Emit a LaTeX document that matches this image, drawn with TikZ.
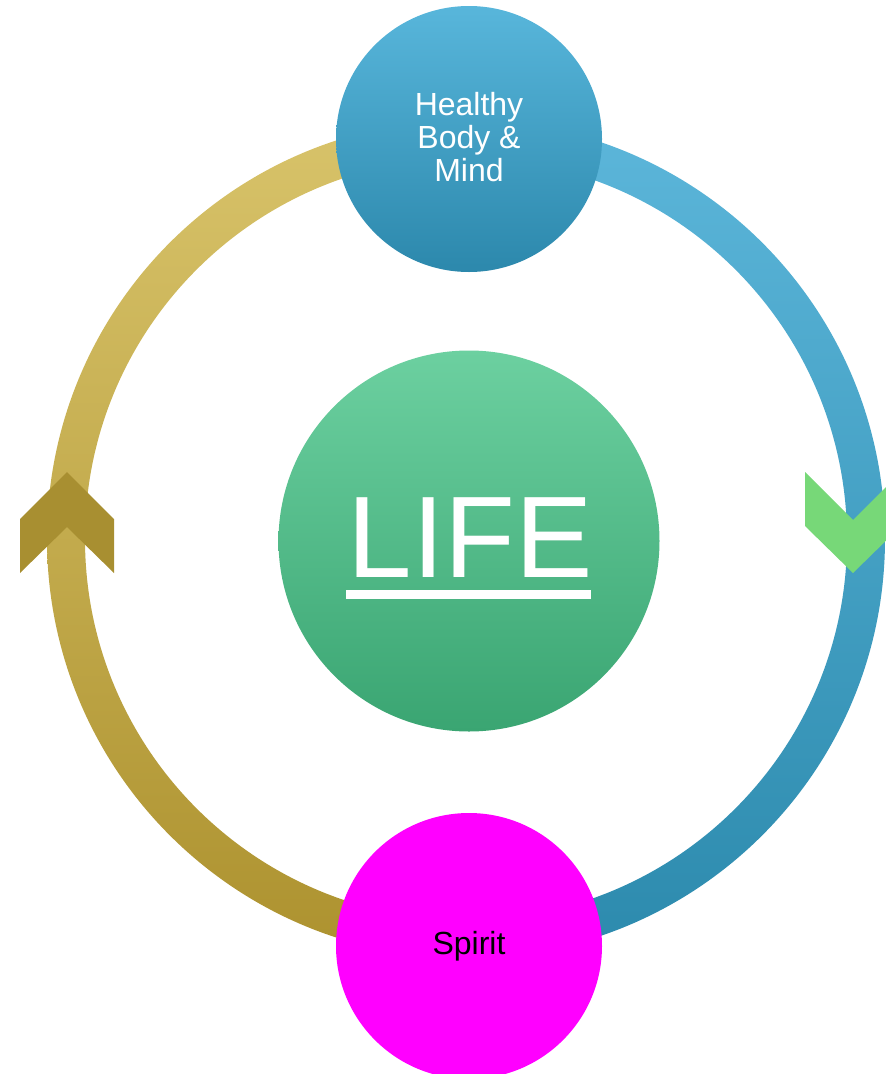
\documentclass[tikz,border=0pt]{standalone}
\usepackage{fontspec}
\setmainfont{Liberation Sans}
\definecolor{goldtop}{HTML}{D8C36A}
\definecolor{goldmid}{HTML}{CAAE3E}
\definecolor{goldbot}{HTML}{AD922F}
\definecolor{bluetop}{HTML}{5CB6DA}
\definecolor{bluemid}{HTML}{3AA3CC}
\definecolor{bluebot}{HTML}{2C8AAD}
\definecolor{chevgold}{HTML}{A88F31}
\definecolor{chevgreen}{HTML}{77D878}
\definecolor{hbtop}{HTML}{58B6DB}
\definecolor{hbmid}{HTML}{2C9CC7}
\definecolor{hbbot}{HTML}{2C88AC}
\definecolor{lifetop}{HTML}{6CD0A0}
\definecolor{lifemid}{HTML}{3CC17F}
\definecolor{lifebot}{HTML}{3AA572}
\definecolor{spiritfill}{HTML}{FF00FF}
\begin{document}
\begin{tikzpicture}[x=1pt,y=-1pt,
  bubble/.style={circle, inner sep=0pt, minimum size=266pt, align=center,
    font=\fontsize{32}{33}\selectfont},
  chevron/.style={draw=none}]
\clip (0,0) rectangle (886,1074);
\coordinate (c) at (466,539);

% outer ring: gold on the left, blue on the right
\begin{scope}
  \clip (0,0) rectangle (466,1074);
  \shade[even odd rule, top color=goldtop, middle color=goldmid, bottom color=goldbot]
    (c) circle[radius=419] (c) circle[radius=381];
\end{scope}
\begin{scope}
  \clip (466,0) rectangle (886,1074);
  \shade[even odd rule, top color=bluetop, middle color=bluemid, bottom color=bluebot]
    (c) circle[radius=419] (c) circle[radius=381];
\end{scope}

% direction chevrons
\fill[chevron, chevgold] (20,519) -- (67,472) -- (114,519) -- (114,573) -- (67,527) -- (20,573) -- cycle;
\fill[chevron, chevgreen] (805,472) -- (853,520) -- (901,472) -- (901,526) -- (853,573) -- (805,526) -- cycle;

% top bubble
\node[bubble, top color=hbtop, middle color=hbmid, bottom color=hbbot, text=white]
  (body) at (469,139) {};
\node[align=center, text=white, inner sep=0pt, font=\fontsize{32}{33}\selectfont]
  (bodytext) at (469,137) {Healthy\\Body \&\\Mind};

% bottom bubble
\node[bubble, fill=spiritfill, text=black] (spirit) at (469,946) {Spirit};

% centre
\node[circle, inner sep=0pt, minimum size=381pt,
  top color=lifetop, middle color=lifemid, bottom color=lifebot] (life) at (469,541) {};
\node[anchor=base, text=white, inner sep=0pt, font=\fontsize{116}{116}\selectfont]
  (lifetext) at (470,577) {LIFE};
\fill[white] (346,590) rectangle (591,599);
\end{tikzpicture}
\end{document}
